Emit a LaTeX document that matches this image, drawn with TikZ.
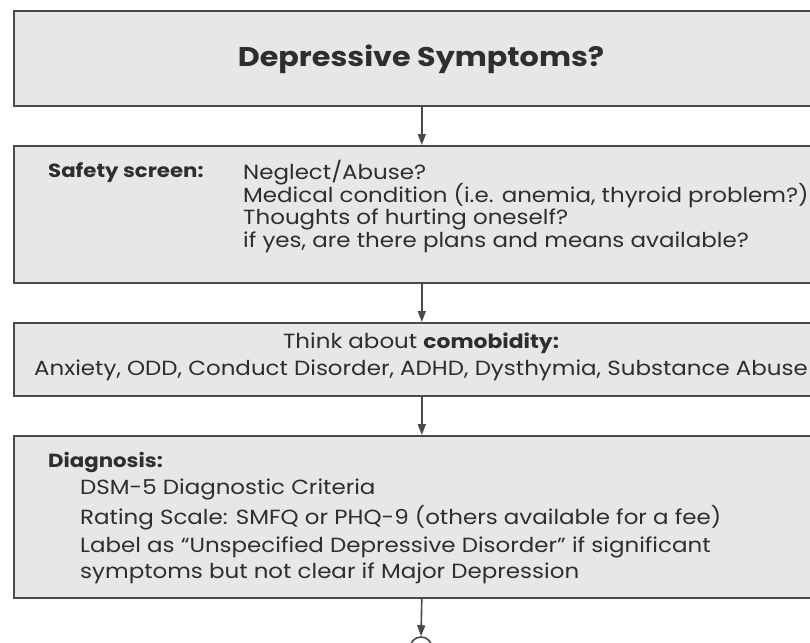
\documentclass[tikz,border=0pt]{standalone}
\usepackage{fontspec}
\setmainfont[FakeStretch=1.12]{Poppins}
\usetikzlibrary{arrows.meta}
\definecolor{boxfill}{HTML}{E6E7E8}
\definecolor{boxline}{HTML}{4A4A4A}
\definecolor{txt}{HTML}{2E2E2E}
\tikzset{
  box/.style={draw=boxline, fill=boxfill, line width=1.6pt, rectangle, inner sep=0pt, minimum width=816pt, anchor=north west},
  conn/.style={draw=boxline, line width=1.6pt, -{Triangle[length=11pt,width=8pt]}},
  txtn/.style={text=txt, inner sep=0pt, font=\fontsize{20.5}{24}\selectfont},
  lft/.style={txtn, anchor=west},
  hdr/.style={lft, font=\fontsize{19}{23}\selectfont\bfseries},
}
\begin{document}
\begin{tikzpicture}[x=1pt,y=-1pt]
\useasboundingbox (0,0) rectangle (810,642);
\fill[white] (0,0) rectangle (810,642);
\begin{scope}
\clip (0,0) rectangle (810,642);
\node[box, minimum height=95pt] (b1) at (13,10) {};
\node[box, minimum height=137pt] (b2) at (13,145) {};
\node[box, minimum height=73pt] (b3) at (13,322) {};
\node[box, minimum height=162pt] (b4) at (13,435) {};
\node[draw=boxline, line width=1.6pt, fill=white, circle, minimum size=22pt, inner sep=0pt] (c) at (421,648) {};

\node[txtn, font=\fontsize{27}{32}\selectfont\bfseries] (t1) at (421,59) {Depressive Symptoms?};

\node[hdr] (s0) at (48,173) {Safety screen:};
\node[lft] (s1) at (243,173) {Neglect/Abuse?};
\node[lft] (s2) at (243,196) {Medical condition (i.e. anemia, thyroid problem?)};
\node[lft] (s3) at (243,219) {Thoughts of hurting oneself?};
\node[lft] (s4) at (243,242) {if yes, are there plans and means available?};

\node[txtn] (m1) at (421,343) {Think about {\fontsize{19.5}{24}\selectfont\bfseries comobidity:}};
\node[txtn] (m2) at (421,370) {Anxiety, ODD, Conduct Disorder, ADHD, Dysthymia, Substance Abuse};

\node[hdr] (d0) at (48,462) {Diagnosis:};
\node[lft] (d1) at (80,489) {DSM-5 Diagnostic Criteria};
\node[lft] (d2) at (80,518) {Rating Scale: SMFQ or PHQ-9 (others available for a fee)};
\node[lft] (d3) at (80,547) {Label as “Unspecified Depressive Disorder” if significant};
\node[lft] (d4) at (80,573) {symptoms but not clear if Major Depression};

\draw[conn] (b1.south) -- (b2.north);
\draw[conn] (b2.south) -- (b3.north);
\draw[conn] (b3.south) -- (b4.north);
\draw[conn] (b4.south) -- (c.north);
\end{scope}
\end{tikzpicture}
\end{document}
